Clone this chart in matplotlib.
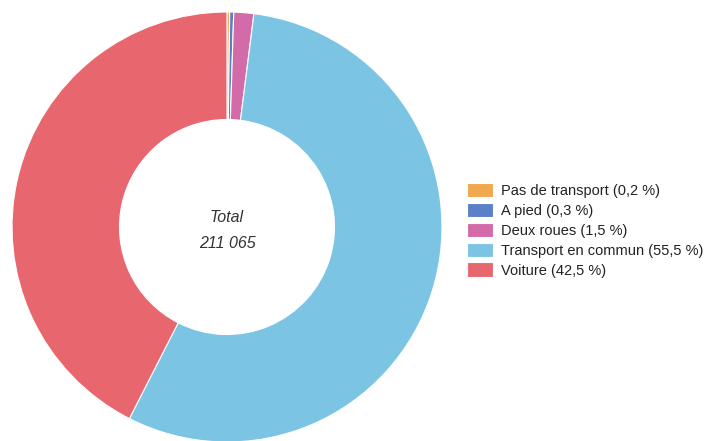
import matplotlib.pyplot as plt

plt.rcParams['font.family'] = ['Liberation Sans', 'DejaVu Sans']

modes = ["Pas de transport", "A pied", "Deux roues", "Transport en commun", "Voiture"]
parts = [0.2, 0.3, 1.5, 55.5, 42.5]
labels = ["Pas de transport (0,2 %)", "A pied (0,3 %)", "Deux roues (1,5 %)",
          "Transport en commun (55,5 %)", "Voiture (42,5 %)"]
couleurs = ["#F2A84E", "#5A80C8", "#D46BA9", "#7CC4E4", "#E8676F"]
total = "211 065"

fig = plt.figure(figsize=(7.07, 4.41), dpi=100)
# axe carre pour le donut
ax = fig.add_axes([12/707, -1/441, 430/707, 430/441])

wedges, _ = ax.pie(parts, colors=couleurs, startangle=90, counterclock=False,
                   radius=1, wedgeprops=dict(width=0.5, edgecolor="white", linewidth=0.8))
ax.set_xlim(-1, 1)
ax.set_ylim(-1, 1)
ax.set_aspect("equal")
ax.axis("off")

ax.text(0, 0.045, "Total", ha="center", va="center", fontsize=11.5, style="italic", color="#333333")
ax.text(0, -0.075, total, ha="center", va="center", fontsize=11.5, style="italic", color="#333333")

fig.legend(wedges, labels, loc="upper left", bbox_to_anchor=(467/707, 1 - 183/441),
           frameon=False, fontsize=10.5, handlelength=1.8, handleheight=1.15,
           handletextpad=0.5, labelspacing=0.32, borderpad=0, borderaxespad=0,
           labelcolor="#222222")

plt.savefig("out.png", dpi=100)
